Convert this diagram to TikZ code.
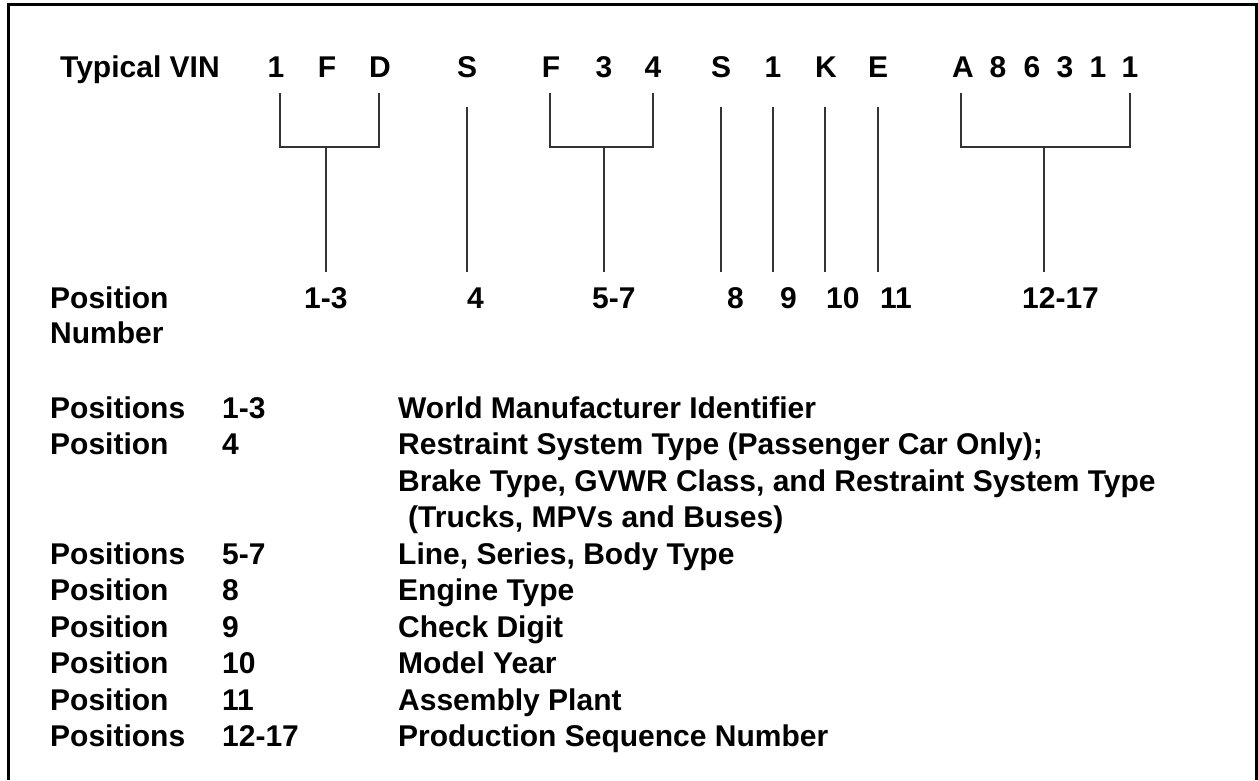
\documentclass[tikz,border=0pt]{standalone}
\usepackage{fontspec}
\setmainfont{Liberation Sans}
\begin{document}
\begin{tikzpicture}[x=1pt,y=-1pt,
  txt/.style={inner sep=0pt, anchor=base west, font=\bfseries\fontsize{30}{36}\selectfont},
  ch/.style={inner sep=0pt, anchor=base, font=\bfseries\fontsize{30}{36}\selectfont},
  conn/.style={line width=1.8pt, draw=black!80},
  frame/.style={line width=3pt, draw=black}]
\useasboundingbox (0,0) rectangle (1258,780);
% frame (open at the bottom)
\coordinate (fbl) at (8.5,780);
\coordinate (ftl) at (8.5,4);
\coordinate (ftr) at (1256,4);
\coordinate (fbr) at (1256,780);
\draw[frame] (fbl) -- (ftl) -- (ftr) -- (fbr);

% title row
\node[txt] (title) at (60,77) {Typical VIN};
\node[ch] (v1) at (276,77) {1};
\node[ch] (v2) at (327,77) {F};
\node[ch] (v3) at (380,77) {D};
\node[ch] (v4) at (467,77) {S};
\node[ch] (v5) at (551,77) {F};
\node[ch] (v6) at (604,77) {3};
\node[ch] (v7) at (653,77) {4};
\node[ch] (v8) at (721,77) {S};
\node[ch] (v9) at (773,77) {1};
\node[ch] (v10) at (826,77) {K};
\node[ch] (v11) at (878,77) {E};
\node[ch] (v12) at (963,77) {A};
\node[ch] (v13) at (998,77) {8};
\node[ch] (v14) at (1032,77) {6};
\node[ch] (v15) at (1065,77) {3};
\node[ch] (v16) at (1098,77) {1};
\node[ch] (v17) at (1130,77) {1};

% position number row
\node[txt] (pn1) at (50,308) {Position};
\node[txt] (pn2) at (50,343) {Number};
\node[txt] (p13) at (304,308) {1-3};
\node[txt] (p4) at (467,308) {4};
\node[txt] (p57) at (592,308) {5-7};
\node[txt] (p8) at (727,308) {8};
\node[txt] (p9) at (780,308) {9};
\node[txt] (p10) at (826,308) {10};
\node[txt] (p11) at (880,308) {11};
\node[txt] (p1217) at (1022,308) {12-17};

% bracket coordinates
\coordinate (a1) at (280,93);  \coordinate (a3) at (379,93);
\coordinate (a1h) at (280,147); \coordinate (a3h) at (379,147);
\coordinate (am) at (326,147);  \coordinate (ae) at (326,272);
\coordinate (s4t) at (467,107); \coordinate (s4b) at (467,272);
\coordinate (b5) at (550,93);  \coordinate (b7) at (653,93);
\coordinate (b5h) at (550,147); \coordinate (b7h) at (653,147);
\coordinate (bm) at (604,147);  \coordinate (be) at (604,272);
\coordinate (s8t) at (721,107); \coordinate (s8b) at (721,272);
\coordinate (s9t) at (773,107); \coordinate (s9b) at (773,272);
\coordinate (s10t) at (825,107); \coordinate (s10b) at (825,272);
\coordinate (s11t) at (878,107); \coordinate (s11b) at (878,272);
\coordinate (c12) at (961,93);  \coordinate (c17) at (1130,93);
\coordinate (c12h) at (961,147); \coordinate (c17h) at (1130,147);
\coordinate (cm) at (1044,147); \coordinate (ce) at (1044,272);

\draw[conn] (a1) -- (a1h) -- (a3h) -- (a3);
\draw[conn] (am) -- (ae);
\draw[conn] (s4t) -- (s4b);
\draw[conn] (b5) -- (b5h) -- (b7h) -- (b7);
\draw[conn] (bm) -- (be);
\draw[conn] (s8t) -- (s8b);
\draw[conn] (s9t) -- (s9b);
\draw[conn] (s10t) -- (s10b);
\draw[conn] (s11t) -- (s11b);
\draw[conn] (c12) -- (c12h) -- (c17h) -- (c17);
\draw[conn] (cm) -- (ce);

% description table
\node[txt] (l1) at (50,418) {Positions};
\node[txt] (n1) at (222,418) {1-3};
\node[txt] (d1) at (398,418) {World Manufacturer Identifier};
\node[txt] (l2) at (50,454.5) {Position};
\node[txt] (n2) at (222,454.5) {4};
\node[txt] (d2) at (398,454.5) {Restraint System Type (Passenger Car Only);};
\node[txt] (d2b) at (398,491) {Brake Type, GVWR Class, and Restraint System Type};
\node[txt] (d2c) at (408,527.5) {(Trucks, MPVs and Buses)};
\node[txt] (l3) at (50,564) {Positions};
\node[txt] (n3) at (222,564) {5-7};
\node[txt] (d3) at (398,564) {Line, Series, Body Type};
\node[txt] (l4) at (50,600.5) {Position};
\node[txt] (n4) at (222,600.5) {8};
\node[txt] (d4) at (398,600.5) {Engine Type};
\node[txt] (l5) at (50,637) {Position};
\node[txt] (n5) at (222,637) {9};
\node[txt] (d5) at (398,637) {Check Digit};
\node[txt] (l6) at (50,673.5) {Position};
\node[txt] (n6) at (222,673.5) {10};
\node[txt] (d6) at (398,673.5) {Model Year};
\node[txt] (l7) at (50,710) {Position};
\node[txt] (n7) at (222,710) {11};
\node[txt] (d7) at (398,710) {Assembly Plant};
\node[txt] (l8) at (50,746.5) {Positions};
\node[txt] (n8) at (222,746.5) {12-17};
\node[txt] (d8) at (398,746.5) {Production Sequence Number};
\end{tikzpicture}
\end{document}
